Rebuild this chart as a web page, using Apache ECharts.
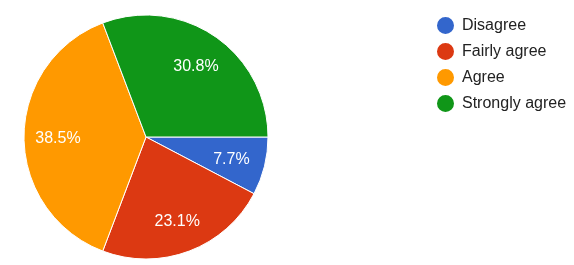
<!DOCTYPE html>
<html><head><meta charset="utf-8">
<script src="https://cdn.jsdelivr.net/npm/echarts@6/dist/echarts.min.js"></script>
<style>html,body{margin:0;padding:0;background:#fff}#c{width:574px;height:265px}</style>
</head><body><div id="c"></div>
<script>
const categories = ['Disagree', 'Fairly agree', 'Agree', 'Strongly agree'];
const counts = [1, 3, 5, 4];
const colors = ['#3366cc', '#dc3912', '#ff9900', '#109618'];

const font = "Arial, 'Liberation Sans', sans-serif";
const total = counts.reduce((a, b) => a + b, 0);
const data = categories.map((n, i) => ({ name: n, value: counts[i], itemStyle: { color: colors[i] } }));
const chart = echarts.init(document.getElementById('c'));
chart.setOption({
  animation: false,
  legend: {
    orient: 'vertical', left: 435, top: 15, padding: 0,
    icon: 'circle', itemWidth: 19, itemHeight: 19, itemGap: 5,
    textStyle: { fontFamily: font, fontSize: 16, lineHeight: 19, color: '#222', padding: [0, 0, 0, 2] },
    data: categories
  },
  series: [
    {
      type: 'pie', center: [146, 137], radius: 122, startAngle: 0, clockwise: true,
      itemStyle: { borderColor: '#fff', borderWidth: 1 },
      label: { show: false }, labelLine: { show: false },
      emphasis: { disabled: true },
      data: data
    },
    {
      type: 'pie', center: [146, 139], radius: [48, 122], startAngle: 0, clockwise: true,
      silent: true,
      itemStyle: { color: 'transparent', borderWidth: 0 },
      label: {
        show: true, position: 'inside', color: '#fff', fontFamily: font, fontSize: 16,
        formatter: p => (p.value / total * 100).toFixed(1) + '%'
      },
      labelLine: { show: false },
      data: categories.map((n, i) => ({ name: n, value: counts[i], itemStyle: { color: 'rgba(0,0,0,0)' } }))
    }
  ]
});
</script></body></html>
